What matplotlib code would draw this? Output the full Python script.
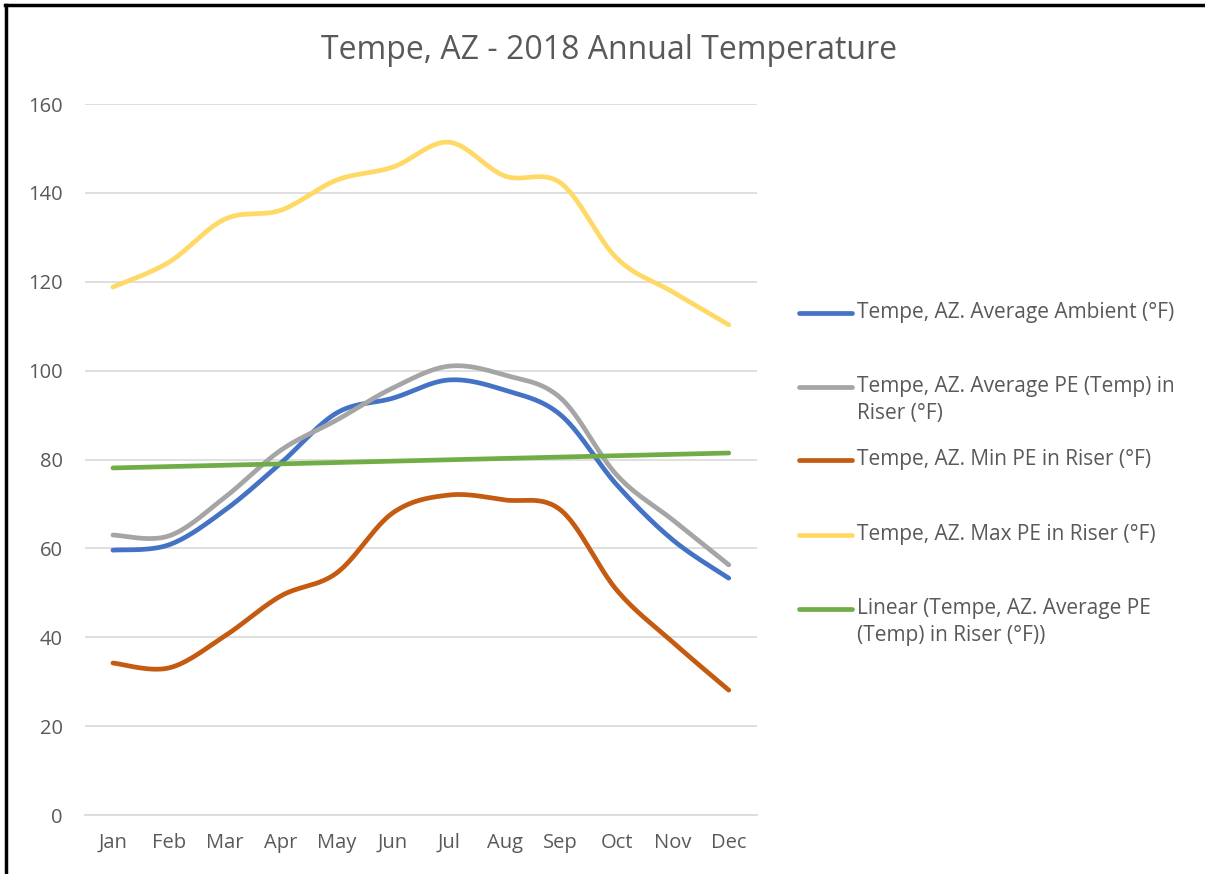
import numpy as np
import matplotlib.pyplot as plt
from matplotlib.lines import Line2D

plt.rcParams['font.family'] = ['Open Sans', 'DejaVu Sans']

months = ['Jan', 'Feb', 'Mar', 'Apr', 'May', 'Jun', 'Jul', 'Aug', 'Sep', 'Oct', 'Nov', 'Dec']
ambient = [59.6, 60.8, 68.6, 79.2, 90.5, 93.8, 97.9, 95.6, 90.0, 74.3, 61.9, 53.3]
avg_pe = [63.0, 62.8, 71.5, 82.1, 88.9, 96.1, 101.0, 99.0, 93.8, 76.5, 66.4, 56.3]
min_pe = [34.2, 33.1, 40.3, 49.3, 54.5, 68.0, 72.0, 70.9, 68.6, 50.6, 38.9, 28.1]
max_pe = [118.8, 124.4, 134.1, 136.1, 142.9, 145.8, 151.4, 143.8, 142.2, 125.3, 117.7, 110.3]

labels = ['Tempe, AZ. Average Ambient (°F)',
          'Tempe, AZ. Average PE (Temp) in\nRiser (°F)',
          'Tempe, AZ. Min PE in Riser (°F)',
          'Tempe, AZ. Max PE in Riser (°F)',
          'Linear (Tempe, AZ. Average PE\n(Temp) in Riser (°F))']
colors = ['#4472C4', '#A5A5A5', '#C55A11', '#FFD966', '#70AD47']
txt = '#595959'


def smooth(y, n=30):
    # excel style bezier smoothing
    x = np.arange(len(y), dtype=float)
    y = np.asarray(y, dtype=float)
    xs, ys = [], []
    t = np.linspace(0, 1, n)
    for i in range(len(y) - 1):
        i0 = max(i - 1, 0)
        i3 = min(i + 2, len(y) - 1)
        p0 = np.array([x[i], y[i]])
        p3 = np.array([x[i + 1], y[i + 1]])
        p1 = p0 + (np.array([x[i + 1], y[i + 1]]) - np.array([x[i0], y[i0]])) / 6
        p2 = p3 - (np.array([x[i3], y[i3]]) - np.array([x[i], y[i]])) / 6
        b = ((1 - t) ** 3)[:, None] * p0 + (3 * (1 - t) ** 2 * t)[:, None] * p1 \
            + (3 * (1 - t) * t ** 2)[:, None] * p2 + (t ** 3)[:, None] * p3
        xs.extend(b[:, 0])
        ys.extend(b[:, 1])
    return np.array(xs), np.array(ys)


fig = plt.figure(figsize=(12.05, 8.74), dpi=100)
ax = fig.add_axes([0.0705, 0.0675, 0.5575, 0.8135])

x = np.arange(len(months))
lw = 3.4
for data, c in zip([ambient, avg_pe, min_pe, max_pe], colors[:4]):
    sx, sy = smooth(data)
    ax.plot(sx, sy, color=c, lw=lw, solid_capstyle='round')

# linear trendline of the average PE series
k, b0 = np.polyfit(x, avg_pe, 1)
ax.plot(x, k * x + b0, color=colors[4], lw=lw, solid_capstyle='round')

ax.set_xlim(-0.5, 11.5)
ax.set_ylim(0, 160)
ax.set_yticks(range(0, 161, 20))
ax.set_xticks(x)
ax.set_xticklabels(months)
ax.grid(axis='y', color='#D9D9D9', lw=1.2)
ax.set_axisbelow(True)
for s in ax.spines.values():
    s.set_visible(False)
ax.spines['bottom'].set_visible(True)
ax.spines['bottom'].set_color('#D9D9D9')
ax.spines['bottom'].set_linewidth(1.2)
ax.tick_params(length=0, labelsize=14.5, colors=txt)
ax.tick_params(axis='x', pad=13)
ax.tick_params(axis='y', pad=16)

fig.text(0.505, 0.942, 'Tempe, AZ - 2018 Annual Temperature', ha='center', va='center',
         fontsize=23, color=txt)

# legend drawn by hand to match the spacing
ys_leg = [313, 387, 460, 535, 609]
W, H = 1205, 874
for yy, c, lab in zip(ys_leg, colors, labels):
    fy = 1 - yy / H
    fig.add_artist(Line2D([799 / W, 852 / W], [fy, fy], color=c, lw=lw,
                          solid_capstyle='round'))
    fig.text(857 / W, 1 - (yy - 11) / H, lab, ha='left', va='top', fontsize=15,
             color=txt, linespacing=1.35)

# frame edges
fig.add_artist(Line2D([6 / W, 6 / W], [0, 1 - 5 / H], color='black', lw=2.5))
fig.add_artist(Line2D([5 / W, 1], [1 - 5 / H, 1 - 5 / H], color='black', lw=2.5))

fig.savefig('out.png', dpi=100)
